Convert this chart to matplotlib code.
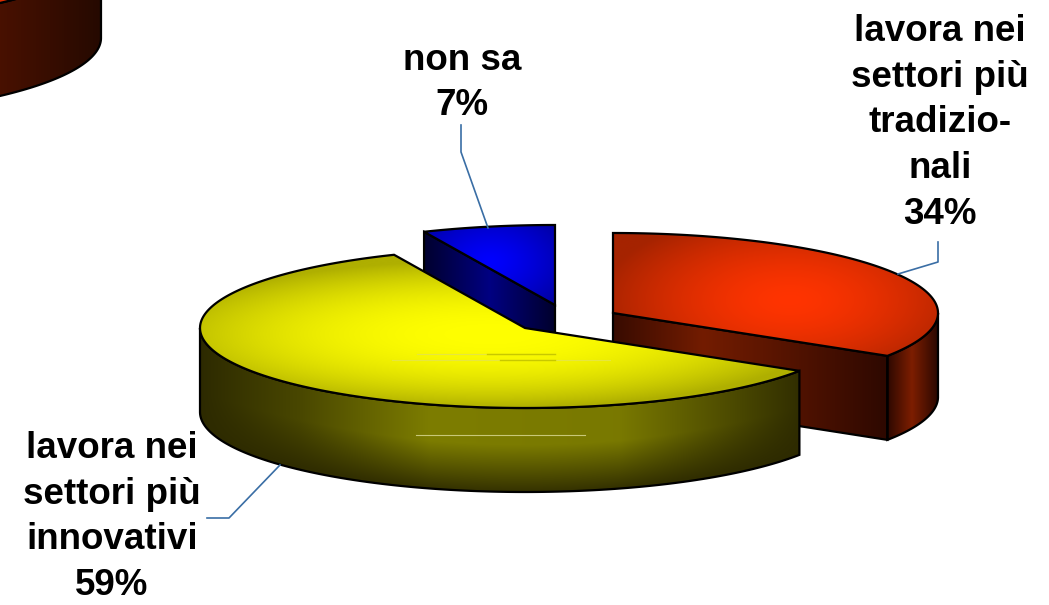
import matplotlib
matplotlib.use("Agg")
import matplotlib.pyplot as plt
from matplotlib.patches import Polygon
import numpy as np

# dati (ordine antiorario a partire dalle ore 12)
labels = ["non sa", "lavora nei\nsettori più\ninnovativi", "lavora nei\nsettori più\ntradizio-\nnali"]
shares = [6.6, 59.4, 34]

RX, RY, DEPTH = 325, 80, 84
centers = [(555, 305), (525, 328), (613, 313)]

plt.rcParams["font.family"] = ["Liberation Sans", "DejaVu Sans"]

fig = plt.figure(figsize=(10.49, 6.05), dpi=100)
ax = fig.add_axes([0, 0, 1, 1])


def rim(c, t0, t1, n=200):
    t = np.radians(np.linspace(t0, t1, n))
    return np.column_stack([c[0] + RX * np.cos(t), c[1] - RY * np.sin(t)])


def shaded(pts, shade, dark, bright, z):
    # riempimento sfumato ritagliato sul poligono
    x0, y0 = pts.min(axis=0)
    x1, y1 = pts.max(axis=0)
    xx, yy = np.meshgrid(np.arange(x0, x1 + 1), np.arange(y0, y1 + 1))
    f = np.clip(shade(xx, yy), 0, 1)[..., None]
    rgb = (np.array(dark) + (np.array(bright) - np.array(dark)) * f) / 255
    im = ax.imshow(rgb, extent=(x0, x1, y1, y0), aspect="auto", zorder=z, interpolation="bilinear")
    poly = Polygon(pts, closed=True, transform=ax.transData, fc="none", ec="black", lw=1.6, zorder=z + 0.1)
    ax.add_patch(poly)
    im.set_clip_path(Polygon(pts, closed=True, transform=ax.transData))


def radial(cx, cy, a, b, p=1.6):
    return lambda x, y: 1 - np.sqrt(((x - cx) / a) ** 2 + ((y - cy) / b) ** 2) ** p


def across(xs, fs):
    return lambda x, y: np.interp(x, xs, fs)


# angoli delle fette
edges = 90 + np.cumsum([0] + shares) * 3.6
blue_t = edges[0], edges[1]
yellow_t = edges[1], edges[2]
red_t = edges[2], edges[3]

# pezzo di torta tagliato in alto a sinistra
cf = (-224, -55)
arc = rim(cf, 180, 360)
wall = np.vstack([arc, arc[::-1] + [0, 93]])
shaded(wall, across([-100, 0, 101], [1, 0.85, 0.15]), (30, 8, 0), (80, 18, 0), 1)
shaded(rim(cf, 0, 360), lambda x, y: np.ones_like(x), (220, 45, 0), (220, 45, 0), 1.5)

# blu
c = centers[0]
r = rim(c, *blue_t)
cut = np.vstack([[c], r[-1:], r[-1:] + [0, DEPTH], [c[0], c[1] + DEPTH]])
shaded(cut, across([c[0] - 132, c[0] - 65, c[0]], [0, 1, 0]), (0, 0, 45), (0, 0, 130), 2)
top = np.vstack([[c], r])
shaded(top, radial(490, 262, 100, 70, 1.3), (0, 0, 140), (0, 0, 255), 3)

# rosso
c = centers[2]
r = rim(c, *red_t)
cut = np.vstack([[c], r[:1], r[:1] + [0, DEPTH], [c[0], c[1] + DEPTH]])
shaded(cut, across([c[0], c[0] + 90, c[0] + 150, c[0] + 276], [0.15, 1, 0.7, 0]), (45, 8, 0), (115, 28, 0), 4)
a = rim(c, red_t[0], 360)
wall = np.vstack([a, a[::-1] + [0, DEPTH]])
shaded(wall, across([a[0, 0], a[0, 0] + 25, a[-1, 0]], [0, 1, 0]), (45, 8, 0), (125, 30, 0), 4)
top = np.vstack([[c], r])
shaded(top, radial(790, 300, 190, 90), (165, 35, 0), (255, 52, 0), 5)

# giallo
c = centers[1]
r = rim(c, *yellow_t)
a = rim(c, 180, yellow_t[1])
wall = np.vstack([a, a[::-1] + [0, DEPTH]])


def yellow_wall(x, y):
    h = np.interp(x, [200, 300, 430, 620, 800], [0, 0.35, 1, 0.95, 0.05])
    v = np.interp(y + 0.0005 * (x - 525) ** 2, [400, 445, 492], [1, 1, 0.1])
    return h * v


shaded(wall, yellow_wall, (45, 42, 0), (125, 125, 0), 6)
top = np.vstack([[c], r])
shaded(top, radial(490, 335, 335, 74, 2.2), (175, 175, 0), (255, 255, 0), 7)

# righine chiare e scure visibili sul giallo
ax.plot([417, 555], [354, 354], color="#e6e640", lw=0.8, zorder=8)
ax.plot([392, 610], [360, 360], color="#e6e640", lw=0.8, zorder=8)
ax.plot([487, 555], [354, 354], color="#c8c800", lw=1, zorder=8)
ax.plot([500, 555], [360, 360], color="#c8c800", lw=1, zorder=8)
ax.plot([416, 585], [435, 435], color="#c8c878", lw=0.8, zorder=8)

# linee guida
guide = "#3a6ea5"
ax.plot([461, 461, 488], [125, 152, 228], color=guide, lw=1.2, zorder=9)
ax.plot([938, 938, 898], [242, 262, 274], color=guide, lw=1.2, zorder=9)
ax.plot([207, 229, 280], [518, 518, 465], color=guide, lw=1.2, zorder=9)

# etichette
label_pos = [(462, 83), (112, 517), (940, 123)]
for lab, val, (x, y) in zip(labels, shares, label_pos):
    ax.text(x, y, f"{lab}\n{val:.0f}%", ha="center", va="center", ma="center",
            fontsize=26.5, fontweight="bold", linespacing=1.39, color="black", zorder=10)

ax.set_xlim(0, 1049)
ax.set_ylim(605, 0)
ax.axis("off")
fig.savefig("out.png", dpi=100, facecolor="white")
